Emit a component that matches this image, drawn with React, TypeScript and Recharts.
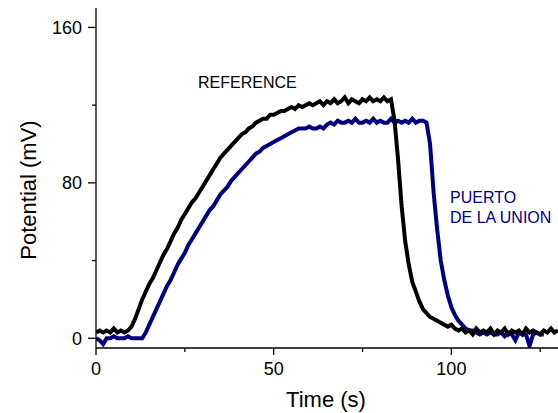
import React from 'react';
import { LineChart, Line, XAxis, YAxis } from 'recharts';

const times: number[] = Array.from({ length: 131 }, (_, i) => i);

const referenceSeries: (number | null)[] = [
  3, 4, 3, 4, 3, 5, 3, 4, 3, 4,
  6, 10, 15, 20, 24, 28, 31, 35, 39, 43,
  46, 50, 54, 57, 61, 64, 67, 70, 72, 75,
  78, 81, 84, 87, 90, 93, 95, 97, 99, 101,
  103, 105, 106, 108, 109, 111, 112, 113, 113, 115,
  115, 116, 117, 117, 118, 119, 118, 120, 119, 120,
  121, 120, 121, 122, 120, 122, 121, 123, 121, 122,
  124, 121, 123, 122, 121, 123, 122, 124, 122, 123,
  122, 124, 122, 123, 112, 92, 68, 50, 38, 29,
  24, 19, 15, 13, 11, 10, 9, 8, 7, 6,
  7, 5, 4, 5, 3, 4, 2, 5, 3, 4,
  3, 5, 2, 4, 3, 5, 2, 4, 3, 4,
  2, 5, 3, 4, 3, 2, 4, 3, 5, 3,
  4,
];

const puertoSeries: (number | null)[] = [
  0, -1, -3, 0, 0, 1, 0, 0, 0, 1,
  0, 0, 0, 0, 3, 7, 11, 15, 19, 23,
  27, 30, 34, 38, 41, 44, 48, 51, 54, 57,
  60, 63, 66, 68, 71, 74, 76, 78, 81, 83,
  85, 87, 89, 91, 93, 95, 96, 98, 99, 100,
  101, 102, 103, 104, 105, 106, 107, 108, 108, 108,
  109, 108, 108, 109, 108, 110, 111, 110, 112, 111,
  111, 112, 111, 113, 111, 111, 112, 111, 113, 111,
  112, 111, 111, 113, 111, 112, 111, 112, 111, 113,
  111, 112, 112, 111, 100, 75, 56, 40, 30, 22,
  16, 12, 9, 7, 5, 4, 4, 3, 2, 3,
  2, 3, 2, 2, 3, 1, 3, 2, -1, 3,
  2, 2, -4, 2, 3, 2, 2, null, null, null,
  null,
];

const xTicks: number[] = [0, 25, 50, 75, 100, 125];
const xMajor: number[] = [0, 50, 100];
const yTicks: number[] = [0, 40, 80, 120, 160];
const yMajor: number[] = [0, 80, 160];

const data = times.map((t, i) => ({
  t,
  ref: referenceSeries[i],
  pu: puertoSeries[i],
}));

const FONT = '"Liberation Sans", Arial, sans-serif';

const XTick = (props: any) => {
  const { x, y, payload } = props;
  const major = xMajor.includes(payload.value);
  return (
    <g>
      <line x1={x} x2={x} y1={y} y2={y + (major ? 7 : 4)} stroke="#000" strokeWidth={1.3} />
      {major && (
        <text x={x} y={y + 27} textAnchor="middle" fontSize={18} fontFamily={FONT} fill="#000">
          {payload.value}
        </text>
      )}
    </g>
  );
};

const YTick = (props: any) => {
  const { x, y, payload } = props;
  const major = yMajor.includes(payload.value);
  return (
    <g>
      <line x1={x} x2={x - (major ? 8 : 4)} y1={y} y2={y} stroke="#000" strokeWidth={1.3} />
      {major && (
        <text x={x - 14} y={y} dy="0.36em" textAnchor="end" fontSize={18} fontFamily={FONT} fill="#000">
          {payload.value}
        </text>
      )}
    </g>
  );
};

export default function App() {
  return (
    <div style={{ position: 'fixed', left: 0, top: 0, width: 558, height: 413, background: '#fff' }}>
      <LineChart
        width={558}
        height={413}
        data={data}
        margin={{ top: 8, right: 0, bottom: 0, left: 0 }}
      >
        <XAxis
          dataKey="t"
          type="number"
          domain={[0, 130]}
          ticks={xTicks}
          allowDataOverflow
          height={65}
          tickSize={0}
          tickMargin={0}
          tick={<XTick />}
          tickLine={false}
          stroke="#000"
          strokeWidth={1.3}
        />
        <YAxis
          type="number"
          domain={[-5, 170]}
          ticks={yTicks}
          allowDataOverflow
          width={96}
          tickSize={0}
          tickMargin={0}
          tick={<YTick />}
          tickLine={false}
          stroke="#000"
          strokeWidth={1.3}
        />
        <Line
          type="linear"
          dataKey="pu"
          stroke="#000080"
          strokeWidth={4}
          dot={false}
          isAnimationActive={false}
        />
        <Line
          type="linear"
          dataKey="ref"
          stroke="#000000"
          strokeWidth={4}
          dot={false}
          isAnimationActive={false}
        />
      </LineChart>
      <svg
        width={558}
        height={413}
        style={{ position: 'absolute', left: 0, top: 0, pointerEvents: 'none' }}
      >
        <text x={198} y={88} fontSize={16} fontFamily={FONT} fill="#000">REFERENCE</text>
        <text x={450} y={203} fontSize={16} fontFamily={FONT} fill="#000080">PUERTO</text>
        <text x={450} y={223} fontSize={16} fontFamily={FONT} fill="#000080">DE LA UNION</text>
        <text x={326} y={407} fontSize={22} fontFamily={FONT} fill="#000" textAnchor="middle">Time (s)</text>
        <text
          x={36}
          y={190}
          fontSize={22}
          fontFamily={FONT}
          fill="#000"
          textAnchor="middle"
          transform="rotate(-90 36 190)"
        >
          Potential (mV)
        </text>
      </svg>
    </div>
  );
}
